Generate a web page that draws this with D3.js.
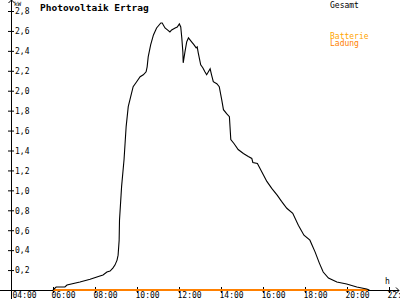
<!DOCTYPE html>
<html>
<head>
<meta charset="utf-8">
<script src="https://cdn.jsdelivr.net/npm/d3@7"></script>
<style>
  body { margin: 0; background: #fff; }
  svg { display: block; }
  text { font-family: "DejaVu Sans Mono", monospace; }
</style>
</head>
<body>
<div id="chart"></div>
<script>
// Gesamt (kW) over the day
var pvTime = ["06:00","06:03","06:09","06:34","06:40","07:17","07:46","08:14","08:23","08:34",
  "08:43","08:51","08:57","09:03","09:06","09:09","09:10","09:16","09:23","09:29",
  "09:35","09:42","09:49","09:57","10:09","10:18","10:26","10:29","10:32","10:39",
  "10:47","10:56","11:08","11:12","11:20","11:27","11:34","11:39","11:49","11:55",
  "12:01","12:05","12:08","12:11","12:12","12:17","12:22","12:27","12:36","12:43",
  "12:49","12:52","12:55","13:02","13:08","13:14","13:19","13:24","13:29","13:33",
  "13:38","13:48","13:55","14:02","14:07","14:16","14:24","14:28","14:37","14:49",
  "15:04","15:18","15:28","15:31","15:44","15:56","16:11","16:25","16:41","16:53",
  "17:08","17:25","17:41","17:57","18:14","18:29","18:41","18:52","19:07","19:31",
  "19:59","20:28","20:56","21:04"];
var pvKw = [0.00,0.01,0.03,0.03,0.05,0.08,0.107,0.14,0.15,0.18,
  0.19,0.22,0.25,0.30,0.35,0.50,0.70,1.04,1.31,1.64,
  1.84,1.94,2.04,2.08,2.14,2.16,2.19,2.24,2.34,2.46,
  2.56,2.63,2.68,2.68,2.63,2.61,2.59,2.61,2.63,2.64,
  2.67,2.64,2.53,2.39,2.28,2.39,2.49,2.53,2.49,2.46,
  2.43,2.44,2.38,2.26,2.23,2.19,2.16,2.19,2.22,2.16,
  2.09,2.07,2.04,1.91,1.81,1.77,1.74,1.51,1.47,1.41,
  1.37,1.34,1.32,1.28,1.27,1.19,1.09,1.02,0.95,0.89,
  0.82,0.77,0.65,0.55,0.50,0.38,0.27,0.18,0.12,0.08,
  0.06,0.03,0.01,0.00];

// Batterie Ladung (kW)
var battTime = ["06:00","21:00"];
var battKw = [0, 0];

var xTicks = [4,6,8,10,12,14,16,18,20,22];
var yTicks = [0.2,0.4,0.6,0.8,1.0,1.2,1.4,1.6,1.8,2.0,2.2,2.4,2.6,2.8];

function toHour(s) {
  var p = s.split(":");
  return +p[0] + (+p[1]) / 60;
}

var W = 400, H = 300;

var svg = d3.select("#chart").append("svg")
  .attr("width", W)
  .attr("height", H);

var x = d3.scaleLinear().domain([4, 22]).range([11, 389]);
var y = d3.scaleLinear().domain([0, 2.8]).range([290, 11]);

// x axis
var xAxis = svg.append("g")
  .attr("transform", "translate(0," + y(0) + ")")
  .call(d3.axisBottom(x)
    .tickValues(xTicks)
    .tickSize(3)
    .tickFormat(function(d) { return d3.format("02d")(d) + ":00"; }));
xAxis.select(".domain").remove();
xAxis.selectAll(".tick line")
  .attr("y1", -3).attr("y2", 3)
  .attr("stroke", "#000");
xAxis.selectAll(".tick text")
  .attr("text-anchor", "start")
  .attr("x", function(d) { return Math.max(-2, 12 - x(d)); })
  .attr("y", 8)
  .attr("dy", 0)
  .style("font-size", "8px")
  .attr("fill", "#000");

// y axis
var yAxis = svg.append("g")
  .attr("transform", "translate(" + x(4) + ",0)")
  .call(d3.axisRight(y)
    .tickValues(yTicks)
    .tickSize(3)
    .tickFormat(function(d) { return d3.format(".1f")(d).replace(".", ","); }));
yAxis.select(".domain").remove();
yAxis.selectAll(".tick line")
  .attr("x1", -3).attr("x2", 3)
  .attr("stroke", "#000");
yAxis.selectAll(".tick text")
  .attr("x", 4)
  .attr("dy", "0.35em")
  .style("font-size", "8px")
  .attr("fill", "#000");

// axis lines + arrows
svg.append("line")
  .attr("x1", 0).attr("x2", 399)
  .attr("y1", y(0) + 0.5).attr("y2", y(0) + 0.5)
  .attr("stroke", "#000");
svg.append("line")
  .attr("x1", x(4) + 0.5).attr("x2", x(4) + 0.5)
  .attr("y1", 0).attr("y2", 299)
  .attr("stroke", "#000");
svg.append("path")
  .attr("d", "M396,287.5L399,290.5L396,293.5")
  .attr("fill", "none").attr("stroke", "#000");
svg.append("path")
  .attr("d", "M8.5,3L11.5,0L14.5,3")
  .attr("fill", "none").attr("stroke", "#000");

// battery line
var battData = battTime.map(function(t, i) { return [toHour(t), battKw[i]]; });
svg.append("path")
  .datum(battData)
  .attr("fill", "none")
  .attr("stroke", "#ff8000")
  .attr("stroke-width", 2)
  .attr("d", d3.line()
    .x(function(d) { return x(d[0]); })
    .y(function(d) { return y(d[1]); }));

// PV line
var pvData = pvTime.map(function(t, i) { return [toHour(t), pvKw[i]]; });
svg.append("path")
  .datum(pvData)
  .attr("fill", "none")
  .attr("stroke", "#000")
  .attr("stroke-width", 1.1)
  .attr("d", d3.line()
    .x(function(d) { return x(d[0]); })
    .y(function(d) { return y(d[1]); }));

// labels
svg.append("text")
  .attr("x", 40).attr("y", 11)
  .style("font-size", "9.5px")
  .style("font-weight", "bold")
  .text("Photovoltaik Ertrag");
svg.append("text")
  .attr("x", 14).attr("y", 6)
  .style("font-size", "6px")
  .text("kW");
svg.append("text")
  .attr("x", 385).attr("y", 284)
  .style("font-size", "8px")
  .text("h");
svg.append("text")
  .attr("x", 330).attr("y", 8)
  .style("font-size", "8px")
  .text("Gesamt");
svg.append("text")
  .attr("x", 330).attr("y", 38.5)
  .style("font-size", "8px")
  .attr("fill", "#ffa500")
  .text("Batterie");
svg.append("text")
  .attr("x", 330).attr("y", 46)
  .style("font-size", "8px")
  .attr("fill", "#ff8000")
  .text("Ladung");
</script>
</body>
</html>
